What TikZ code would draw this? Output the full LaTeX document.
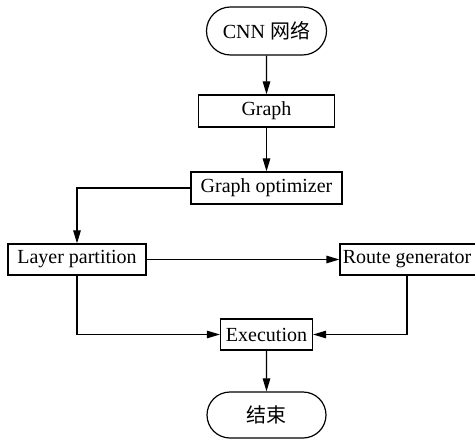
\documentclass[tikz,border=0pt]{standalone}
\usepackage{fontspec}
\setmainfont{Liberation Serif}
\newfontfamily\cjk{Noto Sans CJK SC}
\usetikzlibrary{arrows.meta,shapes.misc}
\begin{document}
\begin{tikzpicture}[x=1bp,y=-1bp,
  every node/.style={font=\fontsize{20bp}{24bp}\selectfont},
  procbox/.style={draw,line width=1.2bp,rectangle,inner sep=0pt},
  termbox/.style={draw,line width=1.2bp,rounded rectangle,inner sep=0pt},
  conn/.style={line width=1.2bp,-{Triangle[length=13bp,width=7.5bp]}}]
\useasboundingbox (0,0) rectangle (475,439);
\node[termbox,minimum width=120bp,minimum height=48bp] (cnn) at (266.5,31) {CNN {\cjk 网络}};
\node[procbox,minimum width=136bp,minimum height=32bp] (graph) at (266.5,111) {Graph};
\node[procbox,minimum width=151bp,minimum height=32bp] (opt) at (266.5,188) {Graph optimizer};
\node[procbox,minimum width=138bp,minimum height=31bp] (layer) at (77,259.5) {Layer partition};
\node[procbox,minimum width=138bp,minimum height=31bp] (route) at (409,259.5) {\hspace*{-4bp}Route generator};
\node[procbox,minimum width=92bp,minimum height=31bp] (exec) at (266.5,334.5) {Execution};
\node[termbox,minimum width=119bp,minimum height=46bp] (end) at (266.5,415) {\cjk 结束};
\draw[conn] (cnn) -- (graph);
\draw[conn] (graph) -- (opt);
\draw[conn] (opt.west) -| (layer.north);
\draw[conn] (layer) -- (route);
\draw[conn] (layer.south) |- (exec.west);
\draw[conn] (route.south -| 407,0) |- (exec.east);
\draw[conn] (exec) -- (end);
\end{tikzpicture}
\end{document}
